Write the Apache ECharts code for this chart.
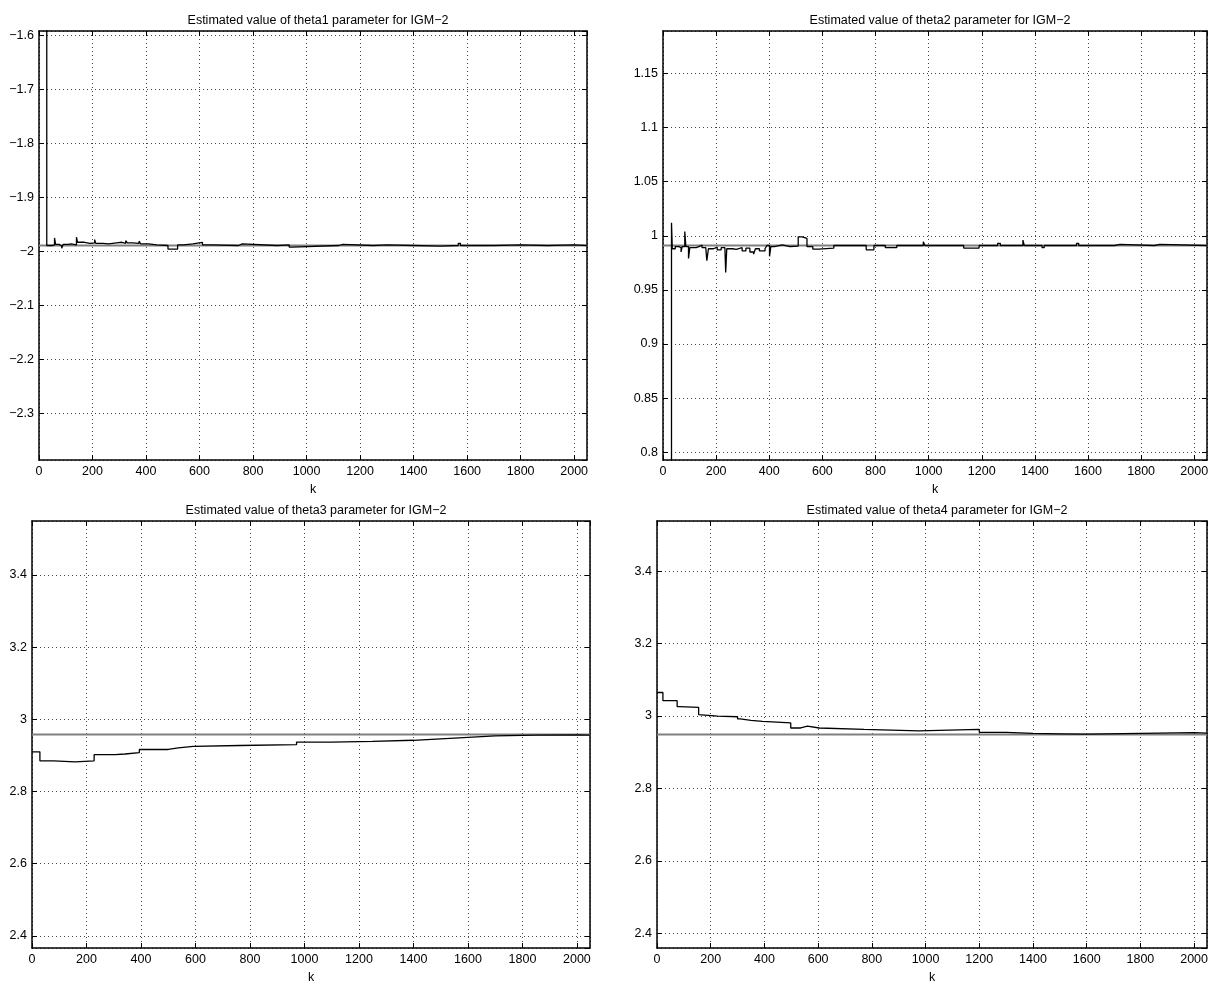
<!DOCTYPE html>
<html>
<head>
<meta charset="utf-8">
<title>Estimated parameters for IGM-2</title>
<script src="https://cdn.jsdelivr.net/npm/echarts@6/dist/echarts.min.js"></script>
<style>
  html, body { margin: 0; padding: 0; background: #fff; }
  #chart { width: 1213px; height: 985px; }
</style>
</head>
<body>
<div id="chart"></div>
<script>
// Sample index range and x tick spacing
const kMax = 2048;
const kStep = 200;

// True parameter values (grey reference lines)
const trueTheta1 = -1.989;
const trueTheta2 = 0.991;
const trueTheta3 = 2.958;
const trueTheta4 = 2.949;

// Estimates: sample index where the estimate changes, and the new value
const theta1K = [0, 29, 50, 58, 62, 75, 85, 90, 110, 120, 140, 144, 170, 190, 208, 212, 240, 260, 290, 310, 324, 330, 350, 374, 380, 410, 440, 482, 518, 540, 575, 611, 650, 745, 760, 890, 935, 945, 1121, 1135, 1250, 1300, 1400, 1500, 1567, 1575, 1700, 1800, 1900, 2000, 2048];
const theta1V = [0, -1.989, -1.988, -1.975, -1.987, -1.990, -1.994, -1.987, -1.986, -1.988, -1.9735, -1.983, -1.985, -1.984, -1.978, -1.985, -1.986, -1.984, -1.983, -1.985, -1.980, -1.984, -1.985, -1.981, -1.986, -1.988, -1.989, -1.9957, -1.988, -1.986, -1.9833, -1.988, -1.989, -1.986, -1.989, -1.988, -1.992, -1.989, -1.987, -1.989, -1.988, -1.989, -1.990, -1.989, -1.985, -1.989, -1.988, -1.989, -1.988, -1.989, -1.989];

const theta2K = [0, 32, 35, 46, 60, 68, 72, 82, 86, 96, 101, 125, 135, 147, 161, 165, 171, 190, 204, 219, 233, 236, 240, 262, 276, 298, 312, 327, 341, 348, 363, 384, 391, 401, 406, 420, 449, 478, 509, 524, 542, 564, 586, 643, 765, 794, 837, 880, 980, 986, 1132, 1190, 1260, 1270, 1355, 1360, 1427, 1435, 1557, 1565, 1700, 1720, 1850, 1870, 2048];
const theta2V = [0, 1.012, 0.988, 0.990, 0.989, 0.985, 0.990, 1.004, 0.990, 0.979, 0.989, 0.990, 0.9915, 0.989, 0.988, 0.977, 0.988, 0.9895, 0.987, 0.989, 0.988, 0.966, 0.988, 0.9875, 0.989, 0.986, 0.9885, 0.985, 0.983, 0.988, 0.986, 0.988, 0.991, 0.981, 0.990, 0.9915, 0.990, 0.9905, 0.999, 0.9975, 0.990, 0.9877, 0.9885, 0.991, 0.987, 0.991, 0.989, 0.991, 0.9944, 0.991, 0.9886, 0.991, 0.993, 0.991, 0.996, 0.991, 0.989, 0.991, 0.993, 0.991, 0.992, 0.991, 0.992, 0.991, 0.991];

const theta3K = [0, 29, 80, 158, 228, 305, 342, 394, 500, 537, 592, 763, 971, 1100, 1250, 1400, 1500, 1600, 1700, 1850, 2000, 2048];
const theta3V = [2.910, 2.885, 2.882, 2.885, 2.902, 2.904, 2.908, 2.9165, 2.921, 2.925, 2.9275, 2.930, 2.937, 2.939, 2.942, 2.946, 2.950, 2.954, 2.956, 2.957, 2.956, 2.956];

const theta4K = [0, 22, 75, 84, 155, 162, 226, 300, 310, 350, 393, 498, 535, 560, 604, 771, 975, 1200, 1300, 1400, 1500, 1600, 1800, 2000, 2048];
const theta4V = [3.065, 3.0425, 3.026, 3.024, 3.004, 3.0, 2.998, 2.992, 2.988, 2.9855, 2.981, 2.967, 2.972, 2.967, 2.963, 2.959, 2.963, 2.955, 2.952, 2.951, 2.950, 2.952, 2.954, 2.953, 2.953];

// Plot titles and y tick spacing per panel
const titles = [
  'Estimated value of theta1 parameter for IGM\u22122',
  'Estimated value of theta2 parameter for IGM\u22122',
  'Estimated value of theta3 parameter for IGM\u22122',
  'Estimated value of theta4 parameter for IGM\u22122'
];
const yStep = [0.1, 0.05, 0.2, 0.2];

// Panel layout in pixels
const panels = [
  { left: 39,  top: 31,  width: 548, height: 429 },
  { left: 663, top: 31,  width: 544, height: 429 },
  { left: 32,  top: 521, width: 558, height: 434 },
  { left: 657, top: 521, width: 550, height: 434 }
];

const FONT = "'Liberation Sans', Arial, Helvetica, sans-serif";
const FS = 12.5;
const fmtNum = v => String(+(+v).toFixed(4)).replace('-', '\u2212');
const fmtInt = v => String(Math.round(v));

function pairs(ks, vs) { return ks.map((k, i) => [k, vs[i]]); }

const estimates = [
  { k: theta1K, v: theta1V, truth: trueTheta1 },
  { k: theta2K, v: theta2V, truth: trueTheta2 },
  { k: theta3K, v: theta3V, truth: trueTheta3 },
  { k: theta4K, v: theta4V, truth: trueTheta4 }
];

// The y range spans 0.8 to 1.2 times the true value
function yRange(truth) {
  const a = truth * 0.8, b = truth * 1.2;
  return [Math.min(a, b), Math.max(a, b)];
}

const grids = [], xAxes = [], yAxes = [], series = [], titleObjs = [];
const axisLine = { show: true, onZero: false, lineStyle: { color: '#000', width: 1.5 } };
const tickIn = { show: true, inside: true, length: 5, lineStyle: { color: '#000', width: 1 } };
const dotted = { show: true, lineStyle: { color: '#444', width: 1, type: [1, 3] } };

panels.forEach((p, i) => {
  grids.push({ left: p.left, top: p.top, width: p.width, height: p.height, containLabel: false });
  titleObjs.push({
    text: titles[i],
    left: p.left + p.width / 2,
    top: p.top - 22,
    textAlign: 'center',
    textStyle: { fontFamily: FONT, fontSize: FS, fontWeight: 'normal', color: '#000' }
  });
  const [ymin, ymax] = yRange(estimates[i].truth);
  // bottom x axis with labels
  xAxes.push({
    type: 'value', gridIndex: i, position: 'bottom', min: 0, max: kMax,
    minInterval: kStep, maxInterval: kStep,
    name: 'k', nameLocation: 'middle', nameGap: 23,
    nameTextStyle: { fontFamily: FONT, fontSize: FS, color: '#000' },
    axisLine, axisTick: tickIn, splitLine: dotted,
    axisLabel: { fontFamily: FONT, fontSize: FS, color: '#000', margin: 5,
                 showMaxLabel: false, formatter: fmtInt }
  });
  // top mirror axis
  xAxes.push({
    type: 'value', gridIndex: i, position: 'top', min: 0, max: kMax,
    minInterval: kStep, maxInterval: kStep,
    axisLine, axisTick: tickIn, splitLine: { show: false }, axisLabel: { show: false }
  });
  // left y axis with labels
  yAxes.push({
    type: 'value', gridIndex: i, position: 'left', min: ymin, max: ymax,
    minInterval: yStep[i], maxInterval: yStep[i],
    axisLine, axisTick: tickIn, splitLine: dotted,
    axisLabel: { fontFamily: FONT, fontSize: FS, color: '#000', margin: 5,
                 showMinLabel: false, showMaxLabel: false, formatter: fmtNum }
  });
  // right mirror axis
  yAxes.push({
    type: 'value', gridIndex: i, position: 'right', min: ymin, max: ymax,
    minInterval: yStep[i], maxInterval: yStep[i],
    axisLine, axisTick: tickIn, splitLine: { show: false }, axisLabel: { show: false }
  });
  // grey line: true parameter value
  series.push({
    type: 'line', xAxisIndex: 2 * i, yAxisIndex: 2 * i,
    data: [[0, estimates[i].truth], [kMax, estimates[i].truth]],
    showSymbol: false, silent: true, clip: true,
    lineStyle: { color: '#808080', width: 2 }
  });
  // black stepped line: running estimate
  series.push({
    type: 'line', xAxisIndex: 2 * i, yAxisIndex: 2 * i,
    data: pairs(estimates[i].k, estimates[i].v),
    step: 'end', showSymbol: false, silent: true, clip: true,
    lineStyle: { color: '#000', width: 1.3 }
  });
});

const chart = echarts.init(document.getElementById('chart'), null, { renderer: 'canvas' });
chart.setOption({
  backgroundColor: '#fff',
  animation: false,
  title: titleObjs,
  grid: grids,
  xAxis: xAxes,
  yAxis: yAxes,
  series
});
</script>
</body>
</html>
